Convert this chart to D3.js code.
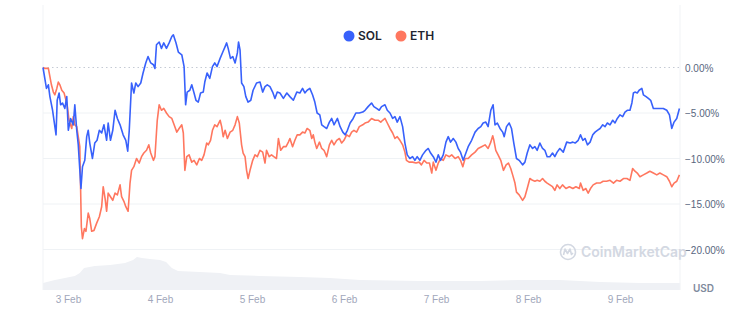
<!DOCTYPE html>
<html><head><meta charset="utf-8">
<script src="https://cdn.jsdelivr.net/npm/d3@7"></script>
<style>body{margin:0;background:#fff}svg{display:block;font-family:Inter,"Noto Sans",sans-serif}</style>
</head><body><svg id="c" width="744" height="333"></svg>
<script>
// hours relative to 3 Feb 00:00, value = % change
const seriesNames = ["SOL", "ETH"];
const seriesColors = ["#3861FB", "#FF775F"];
const solData = [[-6.5,0],[-5.6,-2.3],[-5.1,-1.9],[-4.7,-3.2],[-4.0,-4.7],[-3.1,-7.4],[-2.8,-3.6],[-2.3,-2.8],[-1.9,-4.1],[-1.4,-3.9],[-0.8,-4.5],[-0.3,-3.2],[0.1,-6.9],[0.7,-5.6],[1.4,-6.3],[1.8,-4.1],[2.3,-6.9],[2.7,-8.5],[3.4,-13.3],[3.8,-10.9],[4.4,-10.2],[4.9,-7.6],[5.3,-6.9],[5.7,-8.3],[6.4,-10.0],[7.0,-8.3],[7.6,-8.0],[8.2,-6.9],[8.8,-7.2],[9.4,-6.3],[10.1,-8.0],[10.5,-6.1],[11.1,-8.0],[11.7,-6.9],[12.3,-4.7],[12.9,-5.6],[13.6,-6.3],[14.4,-7.4],[15.1,-8.0],[15.6,-9.2],[16.0,-6.9],[16.6,-1.7],[17.2,-2.8],[17.7,-1.7],[18.3,-2.1],[19.0,-1.7],[19.6,-0.6],[20.3,0.5],[20.9,1.2],[21.6,0.5],[22.3,0.3],[22.7,-0.1],[23.1,2.5],[23.8,2.8],[24.4,2.1],[25.0,2.7],[25.7,2.1],[26.4,2.7],[27.1,3.4],[27.5,3.6],[28.2,2.7],[28.8,1.7],[29.7,1.4],[30.3,0.1],[30.7,-4.1],[31.1,-2.7],[31.8,-2.5],[32.3,-1.9],[32.9,-2.8],[33.4,-3.6],[34.0,-3.8],[34.6,-2.8],[35.3,-2.7],[35.7,-1.6],[36.3,-0.6],[37.0,-1.2],[37.7,0.1],[38.3,0.5],[38.9,0.1],[39.7,1.0],[40.4,1.7],[41.0,2.3],[41.4,2.7],[41.8,2.1],[42.4,1.0],[43.0,1.2],[43.6,0.5],[44.2,1.6],[44.5,2.8],[44.9,1.9],[45.3,-1.7],[45.9,-2.1],[46.4,-3.2],[47.0,-3.8],[47.7,-3.6],[48.3,-2.5],[49.2,-1.7],[50.1,-1.6],[50.8,-2.7],[51.4,-2.1],[52.0,-1.9],[52.7,-2.1],[53.4,-2.7],[54.0,-3.4],[54.6,-2.7],[55.3,-2.8],[56.2,-3.4],[57.1,-2.8],[57.9,-3.2],[58.8,-3.6],[59.7,-2.7],[60.5,-2.8],[61.2,-2.3],[61.8,-2.8],[62.4,-2.5],[63.1,-2.3],[63.8,-3.0],[64.4,-3.8],[65.0,-5.0],[65.7,-5.2],[66.2,-6.3],[66.8,-6.5],[67.5,-6.7],[68.2,-6.0],[68.8,-5.6],[69.4,-6.3],[70.3,-5.6],[71.0,-6.5],[71.7,-7.1],[72.3,-7.4],[72.9,-6.9],[73.6,-6.1],[74.4,-5.6],[75.1,-5.0],[76.0,-5.0],[76.9,-4.9],[77.5,-4.7],[78.3,-4.3],[79.2,-3.9],[79.8,-4.3],[80.5,-4.5],[81.2,-4.7],[81.8,-4.3],[82.7,-4.1],[83.3,-4.7],[84.0,-5.0],[84.7,-5.6],[85.3,-5.4],[85.9,-6.0],[86.6,-5.4],[87.3,-6.5],[87.9,-8.3],[88.5,-9.6],[89.2,-10.0],[89.9,-9.8],[90.5,-10.2],[91.1,-9.8],[91.8,-10.2],[92.5,-9.6],[93.4,-9.1],[94.0,-8.9],[94.6,-9.4],[95.3,-9.8],[96.0,-10.4],[96.6,-9.6],[97.2,-10.2],[97.9,-9.6],[98.6,-8.2],[99.2,-7.6],[99.8,-8.2],[100.5,-7.8],[101.2,-8.2],[101.8,-8.9],[102.4,-9.3],[103.1,-10.2],[103.8,-9.4],[104.4,-8.7],[105.3,-8.0],[106.2,-7.1],[107.0,-6.7],[107.7,-6.5],[108.3,-6.1],[109.0,-6.0],[109.6,-6.5],[110.3,-4.7],[110.9,-4.1],[111.4,-6.3],[112.0,-6.1],[112.7,-6.7],[113.4,-7.1],[113.8,-7.6],[114.4,-6.5],[115.1,-6.1],[115.7,-6.7],[116.3,-8.3],[117.0,-10.0],[117.7,-10.2],[118.6,-10.7],[119.2,-10.4],[119.8,-9.4],[120.5,-8.5],[121.2,-8.9],[121.8,-8.7],[122.4,-9.1],[123.1,-8.3],[123.8,-8.9],[124.4,-9.1],[125.0,-9.8],[125.7,-9.8],[126.4,-9.4],[127.0,-9.8],[127.6,-9.3],[128.3,-8.9],[129.2,-9.3],[130.1,-8.2],[131.0,-8.3],[131.7,-8.2],[132.3,-8.3],[133.1,-8.0],[133.7,-7.4],[134.3,-8.0],[134.9,-7.8],[135.5,-8.5],[136.2,-8.2],[136.9,-7.4],[137.5,-7.1],[138.1,-6.9],[138.8,-6.7],[139.5,-6.3],[140.1,-6.5],[140.7,-6.1],[141.4,-6.3],[142.1,-5.8],[142.7,-6.1],[143.3,-5.6],[144.0,-5.2],[144.7,-5.4],[145.3,-4.9],[145.9,-4.7],[146.6,-4.7],[147.1,-3.9],[147.5,-2.8],[147.9,-2.7],[148.5,-2.8],[149.0,-2.5],[149.7,-2.3],[150.1,-3.0],[150.8,-3.2],[151.4,-3.4],[152.0,-3.6],[152.7,-4.5],[153.6,-4.5],[154.4,-4.5],[155.3,-4.5],[156.2,-4.7],[156.9,-5.2],[157.5,-6.7],[158.1,-6.0],[158.8,-5.6],[159.5,-4.5]];
const ethData = [[-6.5,0],[-6.0,-0.1],[-5.1,-0.1],[-4.7,-1.0],[-4.3,-1.9],[-3.8,-2.7],[-3.4,-3.0],[-2.9,-2.3],[-2.5,-1.6],[-2.1,-1.9],[-1.6,-2.5],[-1.0,-2.8],[-0.5,-3.6],[-0.2,-4.1],[0.3,-5.8],[1.0,-6.7],[1.4,-5.4],[1.8,-6.3],[2.3,-6.5],[2.7,-7.6],[3.1,-8.7],[3.5,-17.5],[3.8,-18.8],[4.3,-17.7],[4.7,-18.0],[5.3,-16.0],[5.7,-16.6],[6.2,-18.0],[6.8,-17.9],[7.5,-17.1],[8.2,-16.4],[8.8,-15.3],[9.2,-13.1],[9.7,-14.4],[10.1,-15.8],[10.5,-13.8],[11.1,-14.2],[11.7,-14.6],[12.3,-13.8],[12.9,-14.0],[13.6,-12.9],[14.0,-14.2],[14.6,-14.7],[15.1,-15.3],[15.7,-15.8],[16.2,-12.7],[16.6,-11.3],[17.2,-10.9],[17.9,-10.0],[18.6,-10.5],[19.2,-9.8],[19.8,-9.4],[20.5,-9.1],[21.1,-8.5],[21.6,-9.4],[22.3,-10.2],[22.7,-9.8],[23.3,-5.8],[23.8,-4.1],[24.4,-4.7],[25.0,-4.5],[25.7,-5.0],[26.4,-5.4],[27.1,-5.6],[27.7,-6.3],[28.4,-7.1],[29.0,-6.7],[29.7,-6.3],[30.1,-7.2],[30.5,-11.3],[31.0,-9.8],[31.6,-9.6],[32.3,-10.4],[32.9,-10.2],[33.6,-10.7],[34.3,-10.0],[34.9,-10.2],[35.5,-9.6],[36.2,-8.3],[36.6,-8.5],[37.2,-8.0],[37.7,-6.9],[38.3,-6.3],[38.9,-6.5],[39.7,-5.8],[40.1,-6.5],[40.5,-7.6],[41.0,-6.9],[41.6,-7.8],[42.3,-7.1],[43.0,-6.9],[43.6,-6.3],[44.2,-5.4],[44.7,-6.1],[45.3,-8.5],[45.7,-9.4],[46.2,-9.8],[46.6,-11.3],[47.0,-12.2],[47.5,-11.3],[48.2,-10.2],[48.8,-9.6],[49.4,-9.8],[50.1,-9.1],[50.8,-9.3],[51.4,-10.5],[51.8,-9.1],[52.5,-9.8],[53.1,-9.6],[53.7,-9.8],[54.4,-10.0],[54.9,-7.8],[55.5,-9.1],[56.2,-8.7],[56.9,-8.7],[57.5,-8.2],[57.9,-7.8],[58.6,-8.7],[59.2,-8.0],[59.8,-7.4],[60.5,-7.4],[61.2,-7.1],[61.8,-7.2],[62.4,-6.7],[63.1,-6.9],[63.6,-7.8],[64.0,-7.4],[64.4,-8.2],[64.9,-8.9],[65.6,-8.2],[66.2,-8.9],[66.8,-9.1],[67.5,-9.8],[68.2,-8.5],[68.8,-8.0],[69.4,-8.5],[70.1,-8.0],[70.8,-7.8],[71.4,-8.3],[72.0,-8.0],[72.7,-7.4],[73.4,-7.6],[74.0,-7.1],[74.6,-6.9],[75.3,-7.1],[76.0,-6.5],[76.9,-6.3],[77.5,-6.1],[78.3,-6.0],[79.2,-5.6],[80.1,-5.8],[81.0,-5.8],[81.6,-6.0],[82.1,-5.8],[82.7,-5.6],[83.3,-6.1],[84.0,-6.7],[84.7,-7.2],[85.3,-7.8],[85.9,-7.6],[86.6,-8.0],[87.3,-8.5],[87.9,-9.3],[88.3,-10.2],[89.0,-10.4],[89.9,-10.4],[90.8,-10.5],[91.6,-10.4],[92.2,-10.7],[92.9,-10.2],[93.6,-10.5],[94.3,-10.5],[94.9,-11.6],[95.3,-10.4],[96.0,-11.3],[96.6,-10.5],[97.2,-10.0],[97.9,-10.2],[98.6,-9.6],[99.5,-9.8],[100.1,-9.6],[101.0,-10.0],[101.8,-9.8],[102.4,-10.2],[103.0,-10.9],[103.6,-10.0],[104.4,-10.0],[105.3,-9.6],[106.2,-9.3],[107.0,-8.9],[107.9,-8.7],[108.8,-8.5],[109.6,-8.9],[110.3,-8.2],[110.8,-7.5],[111.1,-8.0],[111.6,-9.1],[112.2,-9.6],[112.9,-10.2],[113.6,-11.3],[114.3,-10.7],[114.9,-10.5],[115.5,-11.1],[116.0,-11.8],[116.6,-12.7],[117.0,-13.7],[117.7,-14.0],[118.6,-14.6],[119.2,-14.2],[119.8,-13.3],[120.5,-12.2],[121.2,-12.4],[121.8,-12.5],[122.4,-12.4],[123.1,-12.5],[123.8,-12.2],[124.4,-12.5],[125.0,-12.7],[125.7,-12.9],[126.4,-13.1],[127.0,-13.5],[127.6,-12.9],[128.3,-13.3],[129.0,-12.9],[129.9,-13.3],[130.8,-13.1],[131.7,-13.3],[132.5,-13.1],[133.4,-13.3],[133.7,-12.7],[134.4,-13.5],[135.1,-13.3],[135.7,-13.8],[136.3,-13.3],[137.0,-12.9],[137.9,-12.7],[138.8,-12.7],[139.6,-12.5],[140.5,-12.5],[141.4,-12.4],[142.3,-12.7],[143.1,-12.4],[144.0,-12.5],[144.9,-12.2],[145.8,-12.2],[146.6,-12.4],[147.3,-11.1],[147.9,-11.4],[148.5,-11.6],[149.2,-12.0],[150.1,-11.8],[151.0,-11.6],[151.8,-11.4],[152.7,-11.6],[153.6,-11.8],[154.4,-11.6],[155.3,-11.8],[156.2,-12.0],[156.9,-12.5],[157.5,-13.1],[158.1,-12.7],[158.8,-12.5],[159.5,-11.8]];
const volHours = [-6.5,-3.4,-0.8,1.8,3.1,4.2,7.0,11.0,14.9,17.0,18.0,19.3,21.4,24.0,25.6,27.1,28.7,34.4,39.7,42.3,50.1,60.5,68.3,76.2,91.8,99.7,107.5,117.9,128.3,133.6,138.8,149.2,159.7];
const volValues = [7,10,12,14,17,22,24,25,27,30,33,32,31,30,28,22,19,18,17,15,14,13,12,10,9,9,9,10,10,9,8,7,7];
const yTicks = [0, -5, -10, -15, -20];
const xTickDays = [3, 4, 5, 6, 7, 8, 9];
const axisUnit = "USD";
const watermark = "CoinMarketCap";

const base = Date.UTC(2023, 1, 3);
const toDate = h => new Date(base + h * 3600e3);
const svg = d3.select("#c");
const L = 43, R = 680;
const x = d3.scaleTime().domain([toDate(-6.5), toDate(159.65)]).range([L, R]);
const y = d3.scaleLinear().domain([-20, 0]).range([249.5, 67.5]);
const yv = d3.scaleLinear().domain([0, 40]).range([290, 250]);

// volume area
svg.append("path")
  .datum(volHours.map((h, i) => [h, volValues[i]]))
  .attr("fill", "#eff1f5")
  .attr("d", d3.area().x(d => x(toDate(d[0]))).y0(yv(0)).y1(d => yv(d[1])));

// frame lines
svg.append("line").attr("x1", L).attr("x2", L).attr("y1", 5).attr("y2", 290).attr("stroke", "#f1f3f6");
svg.append("line").attr("x1", R).attr("x2", R).attr("y1", 5).attr("y2", 290).attr("stroke", "#f1f3f6");

// grid
const yAxis = d3.axisRight(y).tickValues(yTicks).tickSize(0).tickPadding(0)
  .tickFormat(d => d3.format(".2f")(d) + "%");
const gy = svg.append("g").attr("transform", `translate(${R + 5},0)`).call(yAxis);
gy.select(".domain").remove();
gy.selectAll("text").attr("fill", "#58667e").attr("font-size", 10).attr("font-weight", 500).attr("dy", "0.35em");
svg.append("g").selectAll("line").data(yTicks).join("line")
  .attr("x1", L).attr("x2", R).attr("y1", d => y(d)).attr("y2", d => y(d))
  .attr("stroke", d => d === 0 ? "#c5cad4" : "#eff2f5")
  .attr("stroke-dasharray", d => d === 0 ? "1.5,3" : null);

// x axis
const xAxis = d3.axisBottom(x).tickValues(xTickDays.map(dd => new Date(Date.UTC(2023, 1, dd))))
  .tickSize(0).tickPadding(0).tickFormat(d3.utcFormat("%-d %b"));
const gx = svg.append("g").attr("transform", "translate(0,296)").call(xAxis);
gx.select(".domain").remove();
gx.selectAll("text").attr("fill", "#a1a7bb").attr("font-size", 10);

svg.append("text").attr("x", 693).attr("y", 292).text(axisUnit)
  .attr("fill", "#808a9d").attr("font-size", 10).attr("font-weight", 600);

// watermark
const wm = svg.append("g").attr("transform", "translate(568,252)");
wm.append("circle").attr("r", 7.5).attr("fill", "none").attr("stroke", "#d3d8e2").attr("stroke-width", 1.6);
wm.append("path").attr("d", "M-4.5,3 L-3,-3 L-0.5,1.5 L2,-3 L3.5,2.5 L5,1")
  .attr("fill", "none").attr("stroke", "#d3d8e2").attr("stroke-width", 1.6).attr("stroke-linejoin", "round");
wm.append("text").attr("x", 13).attr("y", 5).text(watermark)
  .attr("fill", "#d3d8e2").attr("font-size", 14).attr("font-weight", 600);

// lines
const line = d3.line().x(d => x(toDate(d[0]))).y(d => y(d[1]));
const datasets = [solData, ethData];
[1, 0].forEach(i => {
  svg.append("path").datum(datasets[i]).attr("fill", "none")
    .attr("stroke", seriesColors[i]).attr("stroke-width", 1.6)
    .attr("stroke-linejoin", "round").attr("d", line);
});

// legend
const lg = svg.append("g").attr("transform", "translate(349,36)");
seriesNames.forEach((n, i) => {
  const g = lg.append("g").attr("transform", `translate(${i * 52},0)`);
  g.append("circle").attr("r", 5.5).attr("fill", seriesColors[i]);
  g.append("text").attr("x", 9).attr("y", 4.3).text(n)
    .attr("fill", "#222531").attr("font-size", 12).attr("font-weight", 600);
});
</script></body></html>
